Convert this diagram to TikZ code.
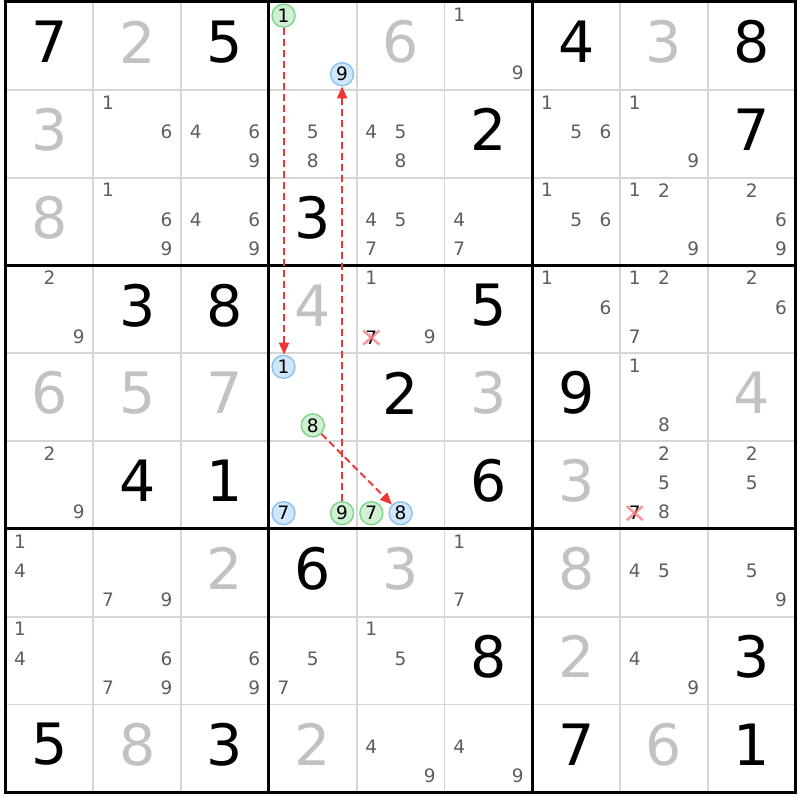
\documentclass[tikz,border=0pt]{standalone}
\usepackage{fontspec}
\setmainfont{DejaVu Sans}
\usetikzlibrary{arrows.meta}
\definecolor{solved}{HTML}{C2C2C2}
\definecolor{cand}{HTML}{5E5E5E}
\definecolor{thinline}{HTML}{D6D6D6}
\definecolor{gfill}{HTML}{CFF0D2}
\definecolor{gline}{HTML}{7ED58A}
\definecolor{bfill}{HTML}{D0E6FB}
\definecolor{bline}{HTML}{8CC1F2}
\definecolor{arr}{HTML}{F03535}
\definecolor{xcol}{HTML}{F07C7C}
\tikzset{
  big/.style={inner sep=0pt, font=\fontsize{57}{60}\selectfont},
  givenn/.style={big, text=black},
  solvedn/.style={big, text=solved},
  candn/.style={inner sep=0pt, text=cand, font=\fontsize{18.5}{20}\selectfont},
  markd/.style={inner sep=0pt, text=black, font=\fontsize{18.5}{20}\selectfont},
  gcirc/.style={circle, inner sep=0pt, minimum size=23pt, draw=gline, fill=gfill, line width=1.4pt, text=black, font=\fontsize{18.5}{20}\selectfont},
  bcirc/.style={circle, inner sep=0pt, minimum size=23pt, draw=bline, fill=bfill, line width=1.4pt, text=black, font=\fontsize{18.5}{20}\selectfont},
  link/.style={draw=arr, color=arr, line width=2pt, dash pattern=on 7pt off 4pt, -{Triangle[length=12pt,width=10pt]}},
  crossline/.style={draw=xcol, line width=2.6pt, opacity=0.75},
  thingrid/.style={draw=thinline, line width=1.8pt},
  thickgrid/.style={draw=black, line width=3pt}
}
% big digit: row, col, digit, style
\newcommand\BigD[4]{\node[#4] (d#1#2) at ({5.5+(#2-0.5)*87.8},{2+(#1-0.5)*87.8-4}) {#3};}
% candidate list: row, col, list
\newcommand\Cands[3]{\foreach \k in {#3}{%
  \pgfmathtruncatemacro\sc{mod(\k-1,3)}%
  \pgfmathtruncatemacro\sr{(\k-1)/3}%
  \node[candn] (c#1#2\k) at ({5.5+(#2-1)*87.8+(\sc+0.5)*29.267},{2+(#1-1)*87.8+(\sr+0.5)*29.267-2}) {\k};}}
% single marked candidate: row, col, digit, style, name
\newcommand\Mark[5]{%
  \pgfmathtruncatemacro\sc{mod(#3-1,3)}%
  \pgfmathtruncatemacro\sr{(#3-1)/3}%
  \node[#4] (#5) at ({5.5+(#2-1)*87.8+(\sc+0.5)*29.267},{2+(#1-1)*87.8+(\sr+0.5)*29.267-1}) {#3};}
\begin{document}
\begin{tikzpicture}[x=1pt,y=-1pt]
\useasboundingbox (0,0) rectangle (800,800);
\fill[white] (0,0) rectangle (800,800);
% thin grid
\foreach \i in {1,2,4,5,7,8}{
  \draw[thingrid] ({5.5+\i*87.8},2) -- ({5.5+\i*87.8},792);
  \draw[thingrid] (5.5,{2+\i*87.8}) -- (795.7,{2+\i*87.8});
}
\foreach \i in {0,3,6,9}{
  \draw[thickgrid] ({5.5+\i*87.8},0.5) -- ({5.5+\i*87.8},793.5);
  \draw[thickgrid] (4,{2+\i*87.8}) -- (797.2,{2+\i*87.8});
}
% givens
\BigD{1}{1}{7}{givenn}\BigD{1}{3}{5}{givenn}\BigD{1}{7}{4}{givenn}\BigD{1}{9}{8}{givenn}
\BigD{2}{6}{2}{givenn}\BigD{2}{9}{7}{givenn}
\BigD{3}{4}{3}{givenn}
\BigD{4}{2}{3}{givenn}\BigD{4}{3}{8}{givenn}\BigD{4}{6}{5}{givenn}
\BigD{5}{5}{2}{givenn}\BigD{5}{7}{9}{givenn}
\BigD{6}{2}{4}{givenn}\BigD{6}{3}{1}{givenn}\BigD{6}{6}{6}{givenn}
\BigD{7}{4}{6}{givenn}
\BigD{8}{6}{8}{givenn}\BigD{8}{9}{3}{givenn}
\BigD{9}{1}{5}{givenn}\BigD{9}{3}{3}{givenn}\BigD{9}{7}{7}{givenn}\BigD{9}{9}{1}{givenn}
% solved
\BigD{1}{2}{2}{solvedn}\BigD{1}{5}{6}{solvedn}\BigD{1}{8}{3}{solvedn}
\BigD{2}{1}{3}{solvedn}
\BigD{3}{1}{8}{solvedn}
\BigD{4}{4}{4}{solvedn}
\BigD{5}{1}{6}{solvedn}\BigD{5}{2}{5}{solvedn}\BigD{5}{3}{7}{solvedn}\BigD{5}{6}{3}{solvedn}\BigD{5}{9}{4}{solvedn}
\BigD{6}{7}{3}{solvedn}
\BigD{7}{3}{2}{solvedn}\BigD{7}{5}{3}{solvedn}\BigD{7}{7}{8}{solvedn}
\BigD{8}{7}{2}{solvedn}
\BigD{9}{2}{8}{solvedn}\BigD{9}{4}{2}{solvedn}\BigD{9}{8}{6}{solvedn}
% candidates
\Cands{1}{6}{1,9}
\Cands{2}{2}{1,6}\Cands{2}{3}{4,6,9}\Cands{2}{4}{5,8}\Cands{2}{5}{4,5,8}\Cands{2}{7}{1,5,6}\Cands{2}{8}{1,9}
\Cands{3}{2}{1,6,9}\Cands{3}{3}{4,6,9}\Cands{3}{5}{4,5,7}\Cands{3}{6}{4,7}\Cands{3}{7}{1,5,6}\Cands{3}{8}{1,2,9}\Cands{3}{9}{2,6,9}
\Cands{4}{1}{2,9}\Cands{4}{5}{1,9}\Cands{4}{7}{1,6}\Cands{4}{8}{1,2,7}\Cands{4}{9}{2,6}
\Cands{5}{8}{1,8}
\Cands{6}{1}{2,9}\Cands{6}{8}{2,5,8}\Cands{6}{9}{2,5}
\Cands{7}{1}{1,4}\Cands{7}{2}{7,9}\Cands{7}{6}{1,7}\Cands{7}{8}{4,5}\Cands{7}{9}{5,9}
\Cands{8}{1}{1,4}\Cands{8}{2}{6,7,9}\Cands{8}{3}{6,9}\Cands{8}{4}{5,7}\Cands{8}{5}{1,5}\Cands{8}{8}{4,9}
\Cands{9}{5}{4,9}\Cands{9}{6}{4,9}
% eliminated candidates
\Mark{4}{5}{7}{markd}{x457}
\Mark{6}{8}{7}{markd}{x687}
\draw[crossline] ([xshift=-8pt,yshift=-7pt]x457.center) -- ([xshift=8pt,yshift=7pt]x457.center);
\draw[crossline] ([xshift=-8pt,yshift=7pt]x457.center) -- ([xshift=8pt,yshift=-7pt]x457.center);
\draw[crossline] ([xshift=-8pt,yshift=-7pt]x687.center) -- ([xshift=8pt,yshift=7pt]x687.center);
\draw[crossline] ([xshift=-8pt,yshift=7pt]x687.center) -- ([xshift=8pt,yshift=-7pt]x687.center);
% marked candidates
\Mark{1}{4}{1}{gcirc}{g1}
\Mark{5}{4}{8}{gcirc}{g8}
\Mark{6}{4}{9}{gcirc}{g9}
\Mark{6}{5}{7}{gcirc}{g7}
\Mark{1}{4}{9}{bcirc}{b9}
\Mark{5}{4}{1}{bcirc}{b1}
\Mark{6}{4}{7}{bcirc}{b7}
\Mark{6}{5}{8}{bcirc}{b8}
% links
\draw[link] (g9) -- (b9);
\draw[link] (g8) -- (b8);
\draw[link] ([xshift=0.5pt]g1.south) -- ([xshift=0.5pt]b1.north);
\end{tikzpicture}
\end{document}
